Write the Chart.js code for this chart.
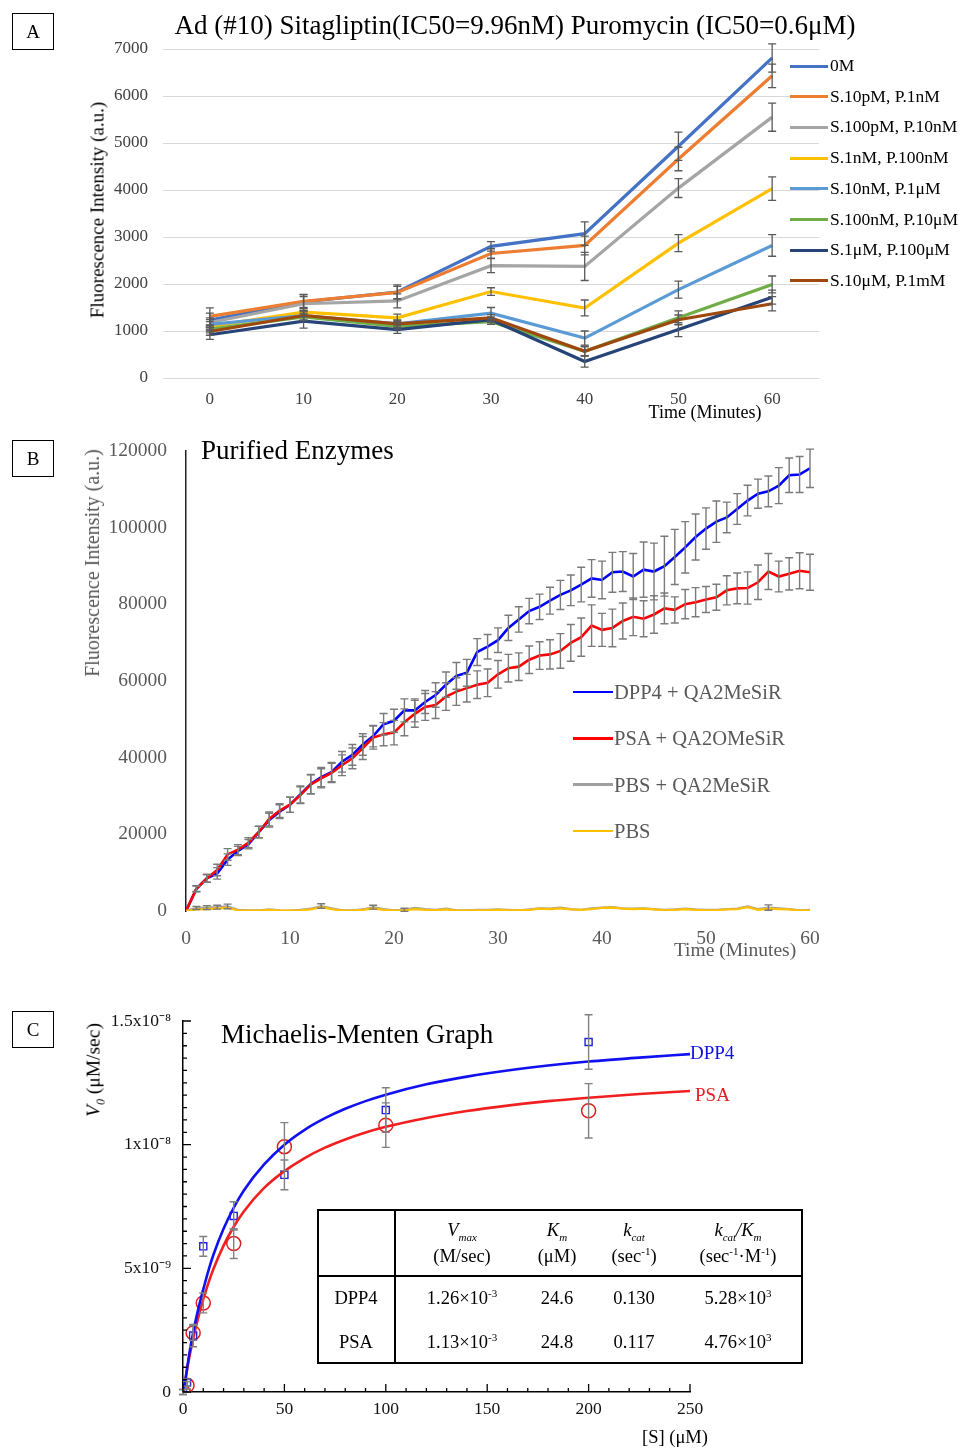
<!DOCTYPE html>
<html><head><meta charset="utf-8">
<script src="https://cdn.jsdelivr.net/npm/chart.js@4/dist/chart.umd.min.js"></script>
<style>
body{margin:0;width:966px;height:1449px;background:#fff;position:relative;overflow:hidden;font-family:"Liberation Serif","Times New Roman",serif;color:#000;}
canvas{position:absolute;left:0;}
.t{position:absolute;white-space:nowrap;line-height:1;}
.c{transform:translate(-50%,-50%);}
.l{transform:translate(0,-50%);}
.box{position:absolute;border:1.5px solid #000;width:42px;height:37px;display:flex;align-items:center;justify-content:center;font-size:19px;box-sizing:border-box;}
.lg{position:absolute;height:3px;}
.tbl{position:absolute;left:317px;top:1209px;width:486px;height:155px;border:2px solid #000;box-sizing:border-box;}
</style>
</head><body>
<canvas id="ca" width="966" height="420" style="top:0;width:966px;height:420px"></canvas>
<canvas id="cb" width="966" height="540" style="top:420px;width:966px;height:540px"></canvas>
<canvas id="cc" width="966" height="459" style="top:990px;width:966px;height:459px"></canvas>
<div id="overlay"></div>
<script>
// ---------------- DATA ----------------
// Panel A
const timeA = ['0','10','20','30','40','50','60'];
const namesA = ['0M','S.10pM, P.1nM','S.100pM, P.10nM','S.1nM, P.100nM','S.10nM, P.1\u03bcM','S.100nM, P.10\u03bcM','S.1\u03bcM, P.100\u03bcM','S.10\u03bcM, P.1mM'];
const colorsA = ['#4472C4','#ED7D31','#A5A5A5','#FFC000','#5B9BD5','#70AD47','#264478','#9E480E'];
const a0M    = [1230, 1620, 1830, 2800, 3070, 4930, 6810];
const aS10pM = [1310, 1630, 1820, 2650, 2820, 4660, 6430];
const aS100pM= [1180, 1580, 1640, 2390, 2375, 4040, 5550];
const aS1nM  = [1100, 1400, 1280, 1840, 1490, 2870, 4030];
const aS10nM = [1140, 1330, 1150, 1380, 850, 1880, 2820];
const aS100nM= [1040, 1300, 1100, 1200, 570, 1280, 1990];
const aS1uM  = [920, 1210, 1030, 1240, 350, 1030, 1720];
const aS10uM = [990, 1330, 1150, 1280, 570, 1240, 1580];
const e0M    = [150, 150, 150, 100, 250, 300, 300];
const eS10pM = [180, 150, 130, 100, 200, 250, 250];
const eS100pM= [100, 150, 150, 150, 300, 200, 300];
const eS1nM  = [100, 100, 80, 80, 170, 180, 250];
const eS10nM = [100, 100, 80, 120, 150, 180, 230];
const eS100nM= [80, 80, 60, 60, 100, 150, 180];
const eS1uM  = [100, 150, 80, 60, 120, 150, 150];
const eS10uM = [80, 100, 80, 70, 100, 100, 150];
const yTicksA = [0,1000,2000,3000,4000,5000,6000,7000];

// Panel B
const minutesB = [0,1,2,3,4,5,6,7,8,9,10,11,12,13,14,15,16,17,18,19,20,21,22,23,24,25,26,27,28,29,30,31,32,33,34,35,36,37,38,39,40,41,42,43,44,45,46,47,48,49,50,51,52,53,54,55,56,57,58,59,60];
const namesB = ['DPP4 + QA2MeSiR','PSA + QA2OMeSiR','PBS + QA2MeSiR','PBS'];
const colorsB = ['#0000FF','#FF0000','#A0A0A0','#FFC000'];
const dpp4B = [0,5800,8500,9800,13400,15650,17400,20570,23700,25900,27700,30400,33100,34900,36200,38900,40700,43400,45600,48700,49600,52300,52300,54500,56300,59000,61300,62100,67500,68900,70600,73800,76000,78200,79300,80900,82400,83600,85100,86700,86300,88300,88500,87200,89000,88500,89900,92300,94800,97500,99700,101500,102600,104800,107000,108800,109400,110900,113600,113800,115400];
const psaB = [0,5800,8500,10700,14750,16000,17800,20600,24000,26200,27700,30200,33000,34600,36000,38000,39800,42500,45200,46100,46500,49200,51400,53200,53700,55900,57200,58100,59000,59500,61700,63300,63700,65500,66600,66900,67800,69900,71400,74400,73300,73800,75600,76700,76200,77300,78900,78500,80000,80500,81200,81800,83600,84100,84200,85700,88500,87200,87900,88700,88300];
const pbsQB = [0,800,900,1000,1200,300,200,200,400,200,100,300,600,1300,700,200,200,400,1000,500,200,300,800,500,300,600,200,200,300,300,400,300,200,400,700,600,900,500,300,700,900,1000,700,600,700,500,300,400,600,400,300,300,500,600,1200,500,900,700,500,200,300];
const pbsB = [0,400,500,700,800,200,100,100,300,100,100,200,400,1000,500,100,100,300,700,300,100,200,500,300,200,400,100,100,200,200,300,200,200,300,600,500,700,400,300,500,800,900,600,500,600,400,200,300,500,300,200,200,400,500,1000,300,600,500,400,100,200];
const dpp4ErrB = [0,700,1000,1500,1500,1200,1200,1500,1800,1800,2000,2200,2500,2500,2500,2700,2700,2800,2800,2800,3000,3000,3000,3000,3200,3300,3500,3500,3500,3200,3200,3300,3300,3300,3300,3500,3800,4000,4500,4900,4900,5200,5200,6000,7200,7400,7800,7200,6700,6000,5400,5400,4000,4000,4000,3800,4000,4700,4500,4700,5000];
const psaErrB = [0,800,1000,1500,1500,1300,1300,1500,1800,1800,2000,2200,2500,2500,2500,2700,2700,3000,3000,3000,3200,3500,3500,3500,3500,3600,3600,3600,3600,3600,3600,3600,3600,3600,3600,3800,4500,4800,5000,5400,4300,4900,4700,4900,4700,4900,4000,3400,3800,3800,3400,3400,3800,4000,4200,4500,4700,4000,4200,4700,4700];
const pbsQErrB = [0,400,500,500,600,0,0,0,0,0,0,0,0,600,0,0,0,0,500,0,0,400,0,0,0,0,0,0,0,0,0,0,0,0,0,0,0,0,0,0,0,0,0,0,0,0,0,0,0,0,0,0,0,0,0,0,700,0,0,0,0];
const yTicksB = [0,20000,40000,60000,80000,100000,120000];

// Panel C (velocities in units of 1e-9 uM/sec)
const sFit = [0,1,2,3,5,7.5,10,12.5,15,20,25,30,40,50,60,70,80,90,100,120,140,160,180,200,225,250];
const dpp4Fit = [0,0.4,0.95,1.5,2.4,3.35,4.15,4.9,5.55,6.6,7.45,8.15,9.2,10.0,10.6,11.07,11.45,11.76,12.02,12.44,12.75,13.0,13.2,13.36,13.52,13.66];
const psaFit = [0,0.4,0.9,1.35,2.15,3.0,3.75,4.4,4.97,5.92,6.68,7.3,8.25,8.93,9.46,9.88,10.21,10.49,10.72,11.08,11.36,11.58,11.76,11.9,12.05,12.17];
const sPts = [0,2,5,10,25,50,100,200];
const dpp4Pts = [0,0.38,2.28,5.89,7.12,8.78,11.4,14.15];
const psaPts = [0,0.27,2.39,3.6,6.0,9.92,10.79,11.37];
const dpp4PtsErr = [0.1,0.15,0.45,0.4,0.57,0.6,0.9,1.1];
const psaPtsErr = [0.1,0.15,0.3,0.4,0.6,0.97,0.9,1.1];
const yTicksC = [0,5,10,15];
const yTickLabelsC = ['0','5x10\u207b\u2079','1x10\u207b\u2078','1.5x10\u207b\u2078'];
const xTicksC = [0,50,100,150,200,250];

// ---------------- HELPERS ----------------
const SERIF = '"Liberation Serif","Times New Roman",serif';
Chart.defaults.font.family = SERIF;
Chart.defaults.animation = false;
const plain = v => String(v);

const errorBars = {
  id:'errorBars',
  afterDatasetsDraw(chart, args, opts){
    const ctx = chart.ctx, ys = chart.scales.y;
    chart.data.datasets.forEach((ds,i)=>{
      if(!ds.errors) return;
      const meta = chart.getDatasetMeta(i);
      ctx.save();
      ctx.strokeStyle = opts.color || '#666';
      ctx.lineWidth = opts.width || 1.2;
      meta.data.forEach((pt,j)=>{
        const e = ds.errors[j]; if(!e) return;
        const d = ds.data[j]; const v = (typeof d === 'object') ? d.y : d;
        const y1 = ys.getPixelForValue(v+e), y2 = ys.getPixelForValue(v-e);
        const x = pt.x, c = opts.cap || 4;
        ctx.beginPath();
        ctx.moveTo(x,y1); ctx.lineTo(x,y2);
        ctx.moveTo(x-c,y1); ctx.lineTo(x+c,y1);
        ctx.moveTo(x-c,y2); ctx.lineTo(x+c,y2);
        ctx.stroke();
      });
      ctx.restore();
    });
  }
};

const minorTicks = {
  id:'minorTicks',
  afterDraw(chart){
    const ctx = chart.ctx, xs = chart.scales.x, ys = chart.scales.y, ca = chart.chartArea;
    ctx.save(); ctx.strokeStyle = '#000'; ctx.lineWidth = 1.3;
    ctx.beginPath();
    for(let v=0; v<=250.001; v+=10){
      const x = xs.getPixelForValue(v); const len = (Math.round(v)%50===0)?8:4;
      ctx.moveTo(x, ca.bottom); ctx.lineTo(x, ca.bottom-len);
    }
    for(let v=0; v<=15.001; v+=0.5){
      const y = ys.getPixelForValue(v); const len = (Math.abs(v-Math.round(v/5)*5)<1e-6)?8:4;
      ctx.moveTo(ca.left, y); ctx.lineTo(ca.left+len, y);
    }
    ctx.stroke(); ctx.restore();
  }
};

const ov = document.getElementById('overlay');
function txt(html, x, y, cls, style){
  const d = document.createElement('div');
  d.className = 't ' + cls; d.innerHTML = html;
  d.style.left = x+'px'; d.style.top = y+'px';
  if(style) d.style.cssText += style;
  ov.appendChild(d); return d;
}
function box(letter, x, y){
  const d = document.createElement('div'); d.className='box'; d.textContent = letter;
  d.style.left = x+'px'; d.style.top = y+'px'; ov.appendChild(d);
}

// ---------------- PANEL A ----------------
const seriesA = [a0M,aS10pM,aS100pM,aS1nM,aS10nM,aS100nM,aS1uM,aS10uM];
const errsA = [e0M,eS10pM,eS100pM,eS1nM,eS10nM,eS100nM,eS1uM,eS10uM];
new Chart(document.getElementById('ca'), {
  type:'line',
  data:{ labels: timeA, datasets: seriesA.map((s,i)=>({
    label: namesA[i], data: s, errors: errsA[i], borderColor: colorsA[i], backgroundColor: colorsA[i],
    borderWidth: 3.2, pointRadius: 0, tension: 0, order: -i
  })) },
  options:{
    responsive:false, devicePixelRatio:1,
    layout:{padding:{top:49, right:147, left:0, bottom:0}},
    plugins:{legend:{display:false}, tooltip:{enabled:false}, errorBars:{color:'#595959', width:1.3, cap:4}},
    scales:{
      x:{ offset:true, grid:{display:false, drawTicks:false}, border:{display:false},
          ticks:{font:{size:17}, color:'#404040', padding:11},
          afterFit(s){ s.height = 42; } },
      y:{ min:0, max:7000, afterBuildTicks(s){ s.ticks = yTicksA.map(v=>({value:v})); },
          grid:{color:'#d9d9d9', drawTicks:false, lineWidth:1}, border:{display:false},
          ticks:{font:{size:17}, color:'#404040', padding:15, callback: plain},
          afterFit(s){ s.width = 163; } }
    }
  },
  plugins:[errorBars]
});
box('A', 12, 13);
txt('Ad (#10) Sitagliptin(IC50=9.96nM) Puromycin (IC50=0.6\u03bcM)', 515, 25, 'c', 'font-size:27px;');
txt('Fluorescence Intensity (a.u.)', 97, 210, '', 'font-size:19px;transform:translate(-50%,-50%) rotate(-90deg);');
txt('Time (Minutes)', 705, 412, 'c', 'font-size:18px;');
namesA.forEach((n,i)=>{
  const y = 66 + i*30.7;
  const l = document.createElement('div'); l.className='lg';
  l.style.cssText += `left:790px;top:${y-1.5}px;width:38px;background:${colorsA[i]};`;
  ov.appendChild(l);
  txt(n, 830, y, 'l', 'font-size:17.5px;');
});

// ---------------- PANEL B ----------------
const seriesB = [dpp4B, psaB, pbsQB, pbsB];
const errsB = [dpp4ErrB, psaErrB, pbsQErrB, null];
new Chart(document.getElementById('cb'), {
  type:'line',
  data:{ datasets: seriesB.map((s,i)=>({
    label: namesB[i], data: s.map((v,j)=>({x:minutesB[j], y:v})), errors: errsB[i] || undefined,
    borderColor: colorsB[i], backgroundColor: colorsB[i], borderWidth: i<2?2.6:2.2, pointRadius:0, tension:0
  })).reverse() },
  options:{
    responsive:false, devicePixelRatio:1,
    layout:{padding:{top:29, right:156, left:0, bottom:0}},
    plugins:{legend:{display:false}, tooltip:{enabled:false}, errorBars:{color:'#7a7a7a', width:1.4, cap:4}},
    scales:{
      x:{ type:'linear', min:0, max:60, ticks:{stepSize:10, font:{size:19.5}, color:'#595959', padding:16, callback: plain},
          grid:{display:false, drawTicks:false}, border:{display:false},
          afterFit(s){ s.height = 49; } },
      y:{ min:0, max:120000, afterBuildTicks(s){ s.ticks = yTicksB.map(v=>({value:v})); },
          ticks:{font:{size:19.5}, color:'#595959', padding:19, callback: plain},
          grid:{display:false, drawTicks:false}, border:{display:true, color:'#222', width:1.5},
          afterFit(s){ s.width = 186; } }
    }
  },
  plugins:[errorBars]
});
box('B', 12, 440);
txt('Purified Enzymes', 201, 450, 'l', 'font-size:27px;');
txt('Fluorescence Intensity (a.u.)', 92, 563, '', 'font-size:20px;color:#595959;transform:translate(-50%,-50%) rotate(-90deg);');
txt('Time (Minutes)', 735, 950, 'c', 'font-size:19.5px;color:#595959;');
namesB.forEach((n,i)=>{
  const y = 692 + i*46.3;
  const l = document.createElement('div'); l.className='lg';
  l.style.cssText += `left:573px;top:${y-1.3}px;width:40px;height:2.6px;background:${colorsB[i]};`;
  ov.appendChild(l);
  txt(n, 614, y, 'l', 'font-size:20.5px;color:#595959;');
});

// ---------------- PANEL C ----------------
new Chart(document.getElementById('cc'), {
  type:'line',
  data:{ datasets:[
    { label:'DPP4 fit', data: sFit.map((s,j)=>({x:s,y:dpp4Fit[j]})), borderColor:'#1010F0', borderWidth:2.6, pointRadius:0, tension:0.4, cubicInterpolationMode:'monotone' },
    { label:'PSA fit', data: sFit.map((s,j)=>({x:s,y:psaFit[j]})), borderColor:'#F02020', borderWidth:2.6, pointRadius:0, tension:0.4, cubicInterpolationMode:'monotone' },
    { label:'DPP4', data: sPts.map((s,j)=>({x:s,y:dpp4Pts[j]})), errors: dpp4PtsErr, showLine:false, pointStyle:'rect', pointRadius:5, borderColor:'#2020E0', backgroundColor:'rgba(0,0,0,0)', borderWidth:1.4 },
    { label:'PSA', data: sPts.map((s,j)=>({x:s,y:psaPts[j]})), errors: psaPtsErr, showLine:false, pointStyle:'circle', pointRadius:7, borderColor:'#E02020', backgroundColor:'rgba(0,0,0,0)', borderWidth:1.5 }
  ]},
  options:{
    responsive:false, devicePixelRatio:1,
    layout:{padding:{top:31, right:276, left:0, bottom:0}},
    plugins:{legend:{display:false}, tooltip:{enabled:false}, errorBars:{color:'#808080', width:1.4, cap:4}},
    scales:{
      x:{ type:'linear', min:0, max:250, afterBuildTicks(s){ s.ticks = xTicksC.map(v=>({value:v})); },
          ticks:{font:{size:17.5}, color:'#111', padding:7, callback: plain},
          grid:{display:false, drawTicks:false}, border:{display:true, color:'#000', width:1.5},
          afterFit(s){ s.height = 57; } },
      y:{ min:0, max:15, afterBuildTicks(s){ s.ticks = yTicksC.map(v=>({value:v})); },
          ticks:{font:{size:17.5}, color:'#111', padding:12, callback:(v)=>yTickLabelsC[yTicksC.indexOf(v)]},
          grid:{display:false, drawTicks:false}, border:{display:true, color:'#000', width:1.5},
          afterFit(s){ s.width = 183; } }
    }
  },
  plugins:[errorBars, minorTicks]
});
box('C', 12, 1011);
txt('Michaelis-Menten Graph', 221, 1034, 'l', 'font-size:27px;');
txt('<i>V<sub style="font-size:12px">0</sub></i> (\u03bcM/sec)', 95, 1070, '', 'font-size:19.5px;transform:translate(-50%,-50%) rotate(-90deg);');
txt('[S] (\u03bcM)', 675, 1437, 'c', 'font-size:18.5px;');
txt('DPP4', 690, 1052, 'l', 'font-size:19px;color:#1010E0;');
txt('PSA', 695, 1094, 'l', 'font-size:19px;color:#E02020;');

// table
const tb = document.createElement('div'); tb.className='tbl'; ov.appendChild(tb);
const vl = document.createElement('div'); vl.style.cssText='position:absolute;left:394px;top:1209px;width:2px;height:155px;background:#000;'; ov.appendChild(vl);
const hl = document.createElement('div'); hl.style.cssText='position:absolute;left:317px;top:1275px;width:486px;height:2px;background:#000;'; ov.appendChild(hl);
const hdr1 = ['<i>V<sub style="font-size:11px">max</sub></i>','<i>K<sub style="font-size:11px">m</sub></i>','<i>k<sub style="font-size:11px">cat</sub></i>','<i>k<sub style="font-size:11px">cat</sub>/K<sub style="font-size:11px">m</sub></i>'];
const hdr2 = ['(M/sec)','(\u03bcM)','(sec<sup style="font-size:11px">-1</sup>)','(sec<sup style="font-size:11px">-1</sup>\u00b7M<sup style="font-size:11px">-1</sup>)'];
const colX = [462, 557, 634, 738];
const rowNames = ['DPP4','PSA'];
const rowVals = [
  ['1.26\u00d710<sup style="font-size:11px">-3</sup>','24.6','0.130','5.28\u00d710<sup style="font-size:11px">3</sup>'],
  ['1.13\u00d710<sup style="font-size:11px">-3</sup>','24.8','0.117','4.76\u00d710<sup style="font-size:11px">3</sup>']
];
colX.forEach((x,i)=>{ txt(hdr1[i], x, 1232, 'c', 'font-size:18.5px;'); txt(hdr2[i], x, 1256, 'c', 'font-size:18.5px;'); });
rowNames.forEach((n,r)=>{
  const y = 1298 + r*44;
  txt(n, 356, y, 'c', 'font-size:18.5px;');
  rowVals[r].forEach((v,i)=> txt(v, colX[i], y, 'c', 'font-size:18.5px;'));
});
</script>
</body></html>
